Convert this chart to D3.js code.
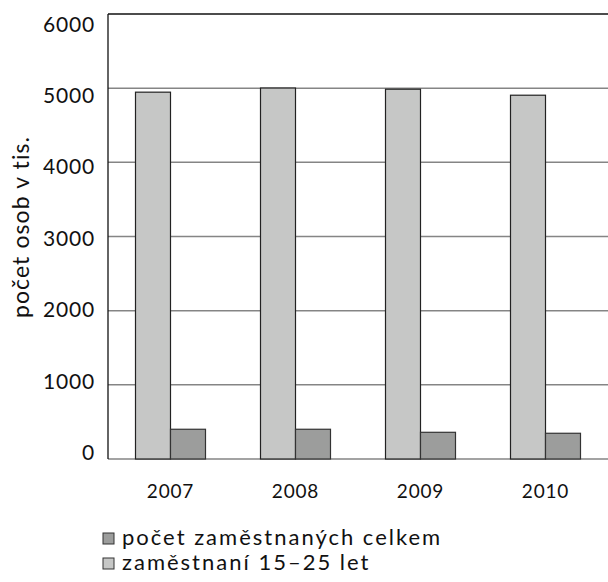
<!DOCTYPE html>
<html>
<head>
<meta charset="utf-8">
<script src="https://cdn.jsdelivr.net/npm/d3@7"></script>
<style>
  body { margin: 0; background: #fff; }
  text { font-family: Lato, "Noto Sans", sans-serif; fill: #111; }
</style>
</head>
<body>
<svg id="chart" width="608" height="582"></svg>
<script>
var years = ["2007", "2008", "2009", "2010"];
var celkem = [401, 401, 360, 347];          // počet zaměstnaných celkem (dark bars)
var mladi = [4946, 5002, 4986, 4905];       // zaměstnaní 15–25 let (light bars)
var yTicks = [0, 1000, 2000, 3000, 4000, 5000, 6000];
var legendLabels = ["počet zaměstnaných celkem", "zaměstnaní 15–25 let"];

var margin = {top: 14, right: 0, bottom: 123, left: 108};
var svg = d3.select("#chart");
var width = +svg.attr("width") - margin.left - margin.right,
    height = +svg.attr("height") - margin.top - margin.bottom;

var x = d3.scaleBand().domain(years).range([0, width]);
var y = d3.scaleLinear().domain([0, 6000]).range([height, 0]);
// tick labels in the original sit on a slightly tighter spacing than the grid
var yLab = d3.scaleLinear().domain([0, 6000]).range([height - 6.5, 10]);
var barW = 35;

var g = svg.append("g").attr("transform", "translate(" + margin.left + "," + margin.top + ")");

// grid lines
g.selectAll(".grid")
  .data(yTicks.filter(function(d) { return d > 0 && d < 6000; }))
  .enter().append("line")
    .attr("x1", 0).attr("x2", width)
    .attr("y1", function(d) { return y(d); })
    .attr("y2", function(d) { return y(d); })
    .attr("stroke", "#858585")
    .attr("stroke-width", 1.5);

// bottom axis line
g.append("line")
  .attr("x1", 0).attr("x2", width)
  .attr("y1", y(0)).attr("y2", y(0))
  .attr("stroke", "#858585").attr("stroke-width", 1.5);

// light bars
g.selectAll(".light")
  .data(mladi)
  .enter().append("rect")
    .attr("x", function(d, i) { return x(years[i]) + x.bandwidth() / 2 - barW; })
    .attr("y", function(d) { return y(d); })
    .attr("width", barW)
    .attr("height", function(d) { return y(0) - y(d); })
    .attr("fill", "#c6c7c6")
    .attr("stroke", "#222")
    .attr("stroke-width", 1.2);

// dark bars
g.selectAll(".dark")
  .data(celkem)
  .enter().append("rect")
    .attr("x", function(d, i) { return x(years[i]) + x.bandwidth() / 2; })
    .attr("y", function(d) { return y(d); })
    .attr("width", barW)
    .attr("height", function(d) { return y(0) - y(d); })
    .attr("fill", "#9c9d9c")
    .attr("stroke", "#333")
    .attr("stroke-width", 1.2);

// frame: top and left
g.append("line").attr("x1", 0).attr("x2", width).attr("y1", 0).attr("y2", 0)
  .attr("stroke", "#111").attr("stroke-width", 1.3);
g.append("line").attr("x1", 0).attr("x2", 0).attr("y1", 0).attr("y2", height)
  .attr("stroke", "#111").attr("stroke-width", 1.3);

// y tick labels
g.selectAll(".ylab")
  .data(yTicks)
  .enter().append("text")
    .attr("x", -13)
    .attr("y", function(d) { return yLab(d); })
    .attr("dy", "0.36em")
    .attr("text-anchor", "end")
    .attr("font-size", "21px")
    .attr("letter-spacing", "0.8px")
    .text(function(d) { return d; });

// x tick labels
g.selectAll(".xlab")
  .data(years)
  .enter().append("text")
    .attr("x", function(d) { return x(d) + x.bandwidth() / 2; })
    .attr("y", height + 39)
    .attr("text-anchor", "middle")
    .attr("font-size", "19px")
    .attr("letter-spacing", "0.8px")
    .text(function(d) { return d; });

// y axis title
svg.append("text")
  .attr("transform", "translate(29,227) rotate(-90)")
  .attr("text-anchor", "middle")
  .attr("font-size", "23px")
  .attr("letter-spacing", "1.1px")
  .text("počet osob v tis.");

// legend
var legendFill = ["#9c9d9c", "#c6c7c6"];
var leg = svg.selectAll(".leg")
  .data(legendLabels)
  .enter().append("g")
    .attr("transform", function(d, i) { return "translate(103," + (533 + i * 25) + ")"; });
leg.append("rect")
  .attr("width", 11).attr("height", 11)
  .attr("fill", function(d, i) { return legendFill[i]; })
  .attr("stroke", "#333").attr("stroke-width", 1);
leg.append("text")
  .attr("x", 19).attr("y", 12)
  .attr("font-size", "22px")
  .attr("letter-spacing", "2px")
  .text(function(d) { return d; });
</script>
</body>
</html>
